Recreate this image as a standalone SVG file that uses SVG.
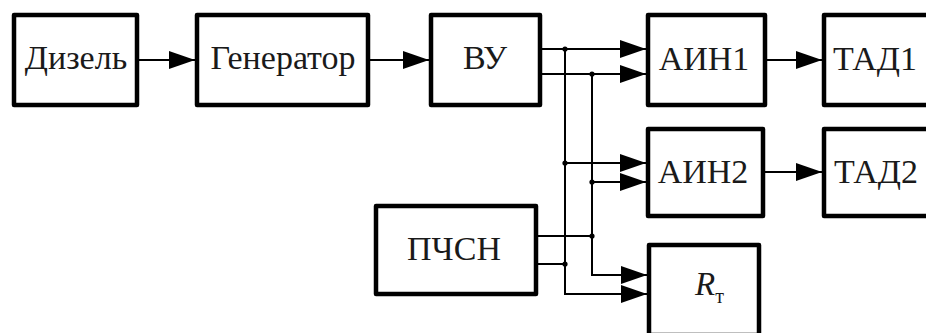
<svg xmlns="http://www.w3.org/2000/svg" width="926" height="333" viewBox="0 0 926 333">
<style>
.box{fill:#fff;stroke:#000;stroke-width:4.5;stroke-linejoin:round}
.w{fill:none;stroke:#000;stroke-width:2}
.a{marker-end:url(#ah)}
.dot{fill:#000}
</style>
<defs>
<marker id="ah" markerUnits="userSpaceOnUse" markerWidth="26" markerHeight="18" refX="26" refY="9" orient="auto">
<path d="M0,0 L26,9 L0,18 z" fill="#000"/>
</marker>
</defs>
<rect width="926" height="333" fill="#fff"/>
<g id="connectors">
<path class="w a" d="M139,60 H195"/>
<path class="w a" d="M370,60 H429"/>
<path class="w a" d="M542,49 H646"/>
<path class="w a" d="M542,74 H646"/>
<path class="w a" d="M767,60 H822"/>
<path class="w a" d="M765,172 H822"/>
<path class="w a" d="M565,49 V294 H647"/>
<path class="w a" d="M592,74 V275 H647"/>
<path class="w a" d="M565,163 H646"/>
<path class="w a" d="M592,182 H646"/>
<path class="w" d="M538,236 H592"/>
<path class="w" d="M538,264 H565"/>
<circle class="dot" cx="565" cy="49" r="2.6"/>
<circle class="dot" cx="592" cy="74" r="2.6"/>
<circle class="dot" cx="565" cy="163" r="2.6"/>
<circle class="dot" cx="592" cy="182" r="2.6"/>
<circle class="dot" cx="592" cy="236" r="2.6"/>
<circle class="dot" cx="565" cy="264" r="2.6"/>
</g>
<g id="diesel"><rect class="box" x="14" y="15" width="123" height="90"/><text x="76" y="69" font-family="Liberation Serif" font-size="34" fill="#1a1a1a" text-anchor="middle">Дизель</text></g>
<g id="generator"><rect class="box" x="197" y="15" width="171" height="90"/><text x="283" y="69" font-family="Liberation Serif" font-size="34" fill="#1a1a1a" text-anchor="middle">Генератор</text></g>
<g id="vu"><rect class="box" x="431" y="15" width="109" height="90"/><text x="485" y="69" font-family="Liberation Serif" font-size="34" fill="#1a1a1a" text-anchor="middle">ВУ</text></g>
<g id="ain1"><rect class="box" x="648" y="15" width="117" height="90"/><text x="704" y="70" font-family="Liberation Serif" font-size="34" fill="#1a1a1a" text-anchor="middle">АИН1</text></g>
<g id="tad1"><rect class="box" x="824" y="15" width="120" height="90"/><text x="875" y="70" font-family="Liberation Serif" font-size="34" fill="#1a1a1a" text-anchor="middle">ТАД1</text></g>
<g id="ain2"><rect class="box" x="648" y="129" width="115" height="87"/><text x="703" y="183" font-family="Liberation Serif" font-size="34" fill="#1a1a1a" text-anchor="middle">АИН2</text></g>
<g id="tad2"><rect class="box" x="824" y="129" width="120" height="87"/><text x="876" y="183" font-family="Liberation Serif" font-size="34" fill="#1a1a1a" text-anchor="middle">ТАД2</text></g>
<g id="pchsn"><rect class="box" x="376" y="206" width="160" height="88"/><text x="454" y="260" font-family="Liberation Serif" font-size="34" fill="#1a1a1a" text-anchor="middle">ПЧСН</text></g>
<g id="rt"><rect class="box" x="649" y="245" width="110" height="90"/><text x="695" y="295" font-family="Liberation Serif" font-size="33" fill="#1a1a1a" font-style="italic">R<tspan font-style="normal" font-size="20" dy="8">т</tspan></text></g>
</svg>
